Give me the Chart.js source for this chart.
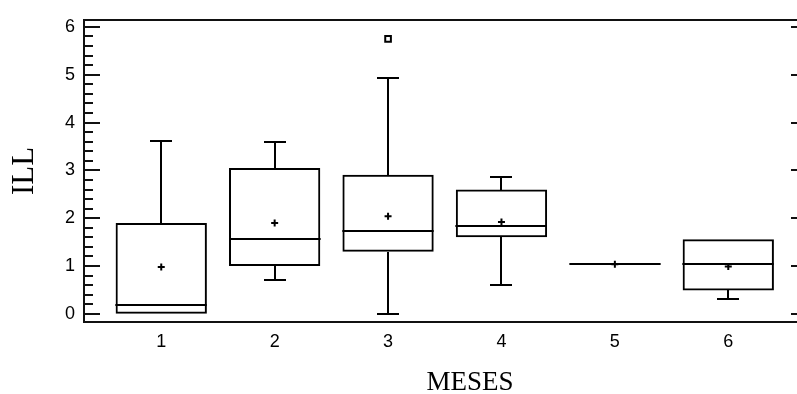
<!DOCTYPE html>
<html>
<head>
<meta charset="utf-8">
<script src="https://cdn.jsdelivr.net/npm/chart.js@4.4.1/dist/chart.umd.min.js"></script>
<style>
  html, body { margin: 0; padding: 0; background: #fff; overflow: hidden; }
  #wrap { position: relative; width: 797px; height: 394px; }
</style>
</head>
<body>
<div id="wrap"><canvas id="myChart"></canvas></div>
<script>
// MESES on x, ILL on y
const months = ['1', '2', '3', '4', '5', '6']
const whiskerLow = [0, 0.70, 0, 0.61, 1.04, 0.31]
const q1 = [0, 1.0, 1.30, 1.60, 1.04, 0.49]
const median = [0.18, 1.56, 1.73, 1.83, 1.04, 1.04]
const q3 = [1.90, 3.05, 2.91, 2.60, 1.04, 1.56]
const whiskerHigh = [3.61, 3.60, 4.94, 2.87, 1.04, 1.56]
const mean = [0.98, 1.90, 2.04, 1.92, 1.04, 0.99]
const outlierMonth = [3]
const outlierValue = [5.75]
const yTicks = [0, 1, 2, 3, 4, 5, 6]

const xMin = 0.31, xMax = 6.606
const yMin = -0.17, yMax = 6.17

const boxPlot = {
  id: 'boxPlot',
  afterDatasetsDraw(chart) {
    const ctx = chart.ctx
    const x = chart.scales.x
    const y = chart.scales.y
    const bars = chart.getDatasetMeta(0).data
    ctx.save()
    ctx.strokeStyle = '#000'
    ctx.lineWidth = 2
    ctx.lineCap = 'butt'
    for (let i = 0; i < months.length; i++) {
      const cx = Math.round(x.getPixelForValue(i + 1))
      const half = bars[i].width / 2
      const cap = 11
      const yq1 = Math.round(y.getPixelForValue(q1[i]))
      const yq3 = Math.round(y.getPixelForValue(q3[i]))
      const ymed = Math.round(y.getPixelForValue(median[i]))
      const ylo = Math.round(y.getPixelForValue(whiskerLow[i]))
      const yhi = Math.round(y.getPixelForValue(whiskerHigh[i]))
      ctx.beginPath()
      ctx.moveTo(cx - half, ymed)
      ctx.lineTo(cx + half, ymed)
      if (whiskerHigh[i] > q3[i]) {
        ctx.moveTo(cx, yq3)
        ctx.lineTo(cx, yhi)
        ctx.moveTo(cx - cap, yhi)
        ctx.lineTo(cx + cap, yhi)
      }
      if (whiskerLow[i] < q1[i]) {
        ctx.moveTo(cx, yq1)
        ctx.lineTo(cx, ylo)
        ctx.moveTo(cx - cap, ylo)
        ctx.lineTo(cx + cap, ylo)
      }
      ctx.stroke()
    }
    ctx.restore()
  },
  afterDraw(chart) {
    const ctx = chart.ctx
    const x = chart.scales.x
    const y = chart.scales.y
    const left = Math.round(x.getPixelForValue(xMin)) + 1
    const right = Math.round(x.getPixelForValue(7 - xMin))
    const top = Math.round(y.getPixelForValue(yMax)) + 1
    const bottom = Math.round(y.getPixelForValue(yMin))
    ctx.save()
    ctx.strokeStyle = '#111'
    ctx.lineWidth = 2
    // frame
    ctx.beginPath()
    ctx.moveTo(left, top)
    ctx.lineTo(right, top)
    ctx.lineTo(right, bottom)
    ctx.lineTo(left, bottom)
    ctx.closePath()
    ctx.stroke()
    // inside ticks, left and right
    ctx.beginPath()
    for (let k = 0; k <= 30; k++) {
      const v = k / 5
      const py = Math.round(y.getPixelForValue(v))
      const len = k % 5 == 0 ? 16 : 9
      ctx.moveTo(left, py)
      ctx.lineTo(left + len, py)
      ctx.moveTo(right, py)
      ctx.lineTo(right - len, py)
    }
    ctx.stroke()
    // axis titles
    ctx.fillStyle = '#000'
    ctx.font = '27px "Liberation Serif", "Times New Roman", serif'
    ctx.textAlign = 'center'
    ctx.textBaseline = 'alphabetic'
    ctx.fillText('MESES', 470, 390)
    ctx.translate(33, 171)
    ctx.rotate(-Math.PI / 2)
    ctx.font = '31px "Liberation Serif", "Times New Roman", serif'
    ctx.fillText('ILL', 0, 0)
    ctx.restore()
  }
}

function start() {
  const ctx = document.getElementById('myChart').getContext('2d')
  const tickFont = { family: '"Liberation Sans", Arial, sans-serif', size: 18 }
  new Chart(ctx, {
    data: {
      datasets: [{
        type: 'bar',
        label: 'box',
        data: months.map((m, i) => ({ x: i + 1, y: [q1[i], q3[i]] })),
        backgroundColor: 'rgba(0,0,0,0)',
        borderColor: '#000',
        borderWidth: 2,
        borderSkipped: false,
        barPercentage: 0.805,
        categoryPercentage: 1
      },
      {
        type: 'scatter',
        label: 'media',
        data: months.map((m, i) => ({ x: i + 1, y: mean[i] })),
        pointStyle: 'cross',
        radius: 3.5,
        borderWidth: 2,
        borderColor: '#000'
      },
      {
        type: 'scatter',
        label: 'atipico',
        data: outlierMonth.map((m, i) => ({ x: m, y: outlierValue[i] })),
        pointStyle: 'rect',
        radius: 4,
        borderWidth: 2,
        borderColor: '#000',
        backgroundColor: '#fff'
      }]
    },
    options: {
      responsive: true,
      maintainAspectRatio: false,
      animation: false,
      layout: { autoPadding: false, padding: { top: 17, right: 0, left: 0, bottom: 0 } },
      plugins: { legend: { display: false }, tooltip: { enabled: false } },
      scales: {
        x: {
          type: 'linear',
          offset: false,
          min: xMin,
          max: xMax,
          grid: { display: false, drawTicks: false, offset: false },
          border: { display: false },
          afterBuildTicks: s => { s.ticks = months.map((m, i) => ({ value: i + 1 })) },
          afterFit: s => { s.height = 72; s.paddingLeft = 0; s.paddingRight = 0 },
          ticks: {
            font: tickFont,
            color: '#000',
            padding: 9,
            maxRotation: 0,
            callback: v => months[v - 1]
          }
        },
        y: {
          type: 'linear',
          min: yMin,
          max: yMax,
          grid: { display: false, drawTicks: false },
          border: { display: false },
          afterBuildTicks: s => { s.ticks = yTicks.map(v => ({ value: v })) },
          afterFit: s => { s.width = 83 },
          ticks: {
            font: tickFont,
            color: '#000',
            padding: 8,
            callback: v => String(v)
          }
        }
      }
    },
    plugins: [boxPlot]
  })
}

start()
</script>
</body>
</html>
